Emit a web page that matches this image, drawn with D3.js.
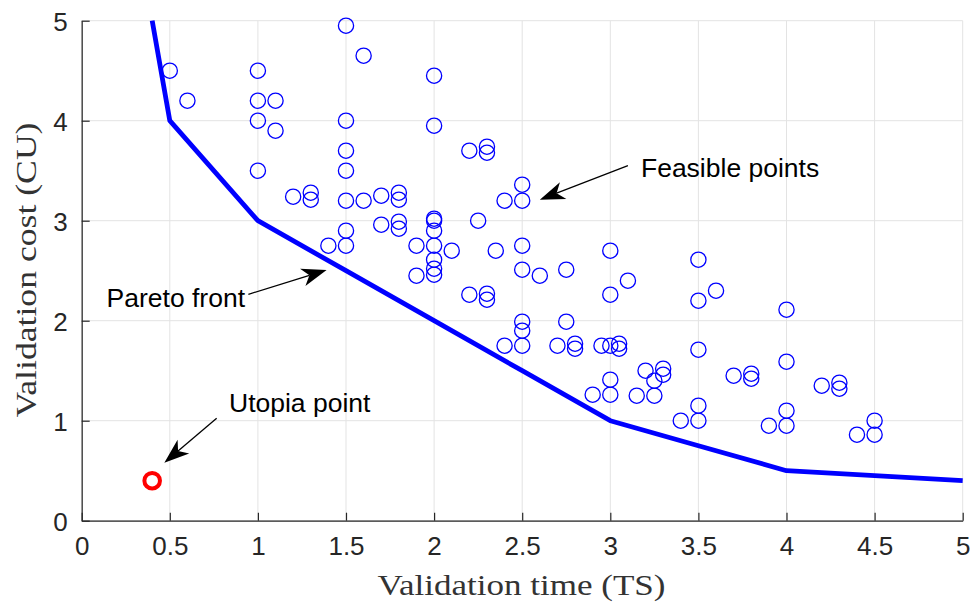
<!DOCTYPE html>
<html>
<head>
<meta charset="utf-8">
<script src="https://cdnjs.cloudflare.com/ajax/libs/d3/7.8.5/d3.min.js"></script>
<style>
  body { margin: 0; background: #fff; }
</style>
</head>
<body>
<div id="chart"></div>
<script>
// pareto front (line)
var paretoX = [0.4, 0.5, 1, 1.5, 2, 2.5, 3, 3.5, 4, 5];
var paretoY = [5, 4, 3, 2.5, 2, 1.5, 1, 0.75, 0.5, 0.4];

// feasible points (open circles)
var feasibleX = [0.5, 0.6, 1, 1, 1.1, 1, 1.1, 1, 1.2, 1.3, 1.3, 1.4,
    1.5, 1.6, 2, 1.5, 2, 1.5, 1.5, 2.2, 2.3, 2.3,
    1.5, 1.6, 1.7, 1.8, 1.8, 2.5, 2.5, 2.4,
    2.25, 1.7, 1.8, 1.8, 2, 2, 2, 1.5,
    1.5, 1.9, 2, 2.1, 2.35, 2.5, 3,
    2, 2, 2, 1.9, 2.5, 2.6, 2.75,
    3.1, 3, 2.2, 2.3, 2.3,
    3.5, 3.6, 3.5, 4,
    2.5, 2.5, 2.5, 2.4, 2.75, 2.7, 2.8, 2.8, 2.95, 3, 3.05, 3.05,
    3.5, 4, 3, 3, 2.9,
    3.2, 3.3, 3.3, 3.25, 3.25, 3.15,
    3.7, 3.8, 3.8, 4.2, 4.3, 4.3,
    3.5, 3.5, 3.4, 4, 4, 3.9, 4.5, 4.5, 4.4];
var feasibleY = [4.5, 4.2, 4.5, 4.2, 4.2, 4.0, 3.9, 3.5, 3.24, 3.28, 3.21, 2.75,
    4.95, 4.65, 4.45, 4.0, 3.95, 3.7, 3.5, 3.7, 3.74, 3.68,
    3.2, 3.2, 3.25, 3.28, 3.21, 3.36, 3.2, 3.2,
    3.0, 2.96, 2.99, 2.92, 3.02, 3.0, 2.9, 2.9,
    2.75, 2.75, 2.75, 2.7, 2.7, 2.75, 2.7,
    2.61, 2.52, 2.46, 2.45, 2.51, 2.45, 2.51,
    2.4, 2.26, 2.26, 2.27, 2.21,
    2.61, 2.3, 2.2, 2.11,
    1.99, 1.9, 1.75, 1.75, 1.99, 1.75, 1.77, 1.72, 1.75, 1.75, 1.77, 1.72,
    1.71, 1.59, 1.41, 1.26, 1.26,
    1.5, 1.52, 1.46, 1.4, 1.25, 1.25,
    1.45, 1.47, 1.42, 1.35, 1.38, 1.32,
    1.15, 1.0, 1.0, 1.1, 0.95, 0.95, 1.0, 0.86, 0.86];

var utopia = [0.4, 0.4];

var xTicks = [0, 0.5, 1, 1.5, 2, 2.5, 3, 3.5, 4, 4.5, 5];
var yTicks = [0, 1, 2, 3, 4, 5];

// annotations: [text, textX, textY, anchor, tailX, tailY, tipX, tipY]
var notes = [
    ["Feasible points", 3.174, 3.44, "start", 3.10, 3.55, 2.60, 3.21],
    ["Pareto front", 0.927, 2.14, "end", 0.946, 2.264, 1.39, 2.507],
    ["Utopia point", 0.836, 1.09, "start", 0.766, 1.024, 0.469, 0.58]
];

var W = 971, H = 603;
var mLeft = 81.7, mRight = 962.7, mTop = 20.7, mBottom = 520.7;

var x = d3.scaleLinear().domain([0, 5]).range([mLeft, mRight]);
var y = d3.scaleLinear().domain([0, 5]).range([mBottom, mTop]);

var svg = d3.select("#chart").append("svg")
    .attr("width", W)
    .attr("height", H);

var axisColor = "#262626";
var gridColor = "#e3e3e3";
var sans = "'Liberation Sans', Arial, sans-serif";
var serif = "'Liberation Serif', 'Times New Roman', serif";

// grid
svg.append("g").selectAll("line")
    .data(xTicks)
    .enter()
    .append("line")
    .attr("x1", function(d){ return x(d); })
    .attr("x2", function(d){ return x(d); })
    .attr("y1", mTop)
    .attr("y2", mBottom)
    .attr("stroke", gridColor)
    .attr("stroke-width", 1);

svg.append("g").selectAll("line")
    .data(yTicks)
    .enter()
    .append("line")
    .attr("y1", function(d){ return y(d); })
    .attr("y2", function(d){ return y(d); })
    .attr("x1", mLeft)
    .attr("x2", mRight)
    .attr("stroke", gridColor)
    .attr("stroke-width", 1);

// axes, ticks pointing inwards
var xAxis = d3.axisBottom(x)
    .tickValues(xTicks)
    .tickSizeInner(-8)
    .tickSizeOuter(0)
    .tickPadding(16)
    .tickFormat(d3.format("~g"));

var yAxis = d3.axisLeft(y)
    .tickValues(yTicks)
    .tickSizeInner(-8)
    .tickSizeOuter(0)
    .tickPadding(14)
    .tickFormat(d3.format("~g"));

var gx = svg.append("g")
    .attr("transform", "translate(0," + mBottom + ")")
    .call(xAxis);
var gy = svg.append("g")
    .attr("transform", "translate(" + mLeft + ",0)")
    .call(yAxis);

[gx, gy].forEach(function(g){
    g.selectAll("path").attr("stroke", axisColor).attr("stroke-width", 1.2);
    g.selectAll("line").attr("stroke", axisColor).attr("stroke-width", 1.2);
    g.selectAll("text")
        .attr("fill", axisColor)
        .attr("font-family", sans)
        .attr("font-size", "26px");
});
gy.selectAll("text").attr("dy", "0.36em");

// axis labels (latex style)
svg.append("text")
    .text("Validation time (TS)")
    .attr("x", (378 + 665) / 2)
    .attr("y", 595)
    .attr("text-anchor", "middle")
    .attr("font-family", serif)
    .attr("font-size", "30px")
    .attr("textLength", 288)
    .attr("lengthAdjust", "spacingAndGlyphs")
    .attr("fill", "#333");

svg.append("text")
    .text("Validation cost (CU)")
    .attr("transform", "translate(35.5,270) rotate(-90)")
    .attr("text-anchor", "middle")
    .attr("font-family", serif)
    .attr("font-size", "30px")
    .attr("textLength", 295)
    .attr("lengthAdjust", "spacingAndGlyphs")
    .attr("fill", "#333");

// pareto front
var line = d3.line()
    .x(function(d){ return x(d[0]); })
    .y(function(d){ return y(d[1]); });

svg.append("path")
    .datum(d3.zip(paretoX, paretoY))
    .attr("d", line)
    .attr("fill", "none")
    .attr("stroke", "#0000ff")
    .attr("stroke-width", 4.8)
    .attr("stroke-linejoin", "round");

// feasible points
svg.append("g").selectAll("circle")
    .data(d3.zip(feasibleX, feasibleY))
    .enter()
    .append("circle")
    .attr("cx", function(d){ return x(d[0]); })
    .attr("cy", function(d){ return y(d[1]); })
    .attr("r", 7.6)
    .attr("fill", "none")
    .attr("stroke", "#0000ff")
    .attr("stroke-width", 1.3);

// utopia point
svg.append("circle")
    .attr("cx", x(utopia[0]))
    .attr("cy", y(utopia[1]))
    .attr("r", 7.8)
    .attr("fill", "none")
    .attr("stroke", "#ff0000")
    .attr("stroke-width", 4);

// annotation arrows
var headLen = 25, headHalf = 9, notch = 18;

notes.forEach(function(n){
    var x0 = x(n[4]), y0 = y(n[5]), x1 = x(n[6]), y1 = y(n[7]);
    var dx = x0 - x1, dy = y0 - y1;
    var len = Math.sqrt(dx * dx + dy * dy);
    var ux = dx / len, uy = dy / len;   // from tip back to tail
    var px = -uy, py = ux;

    svg.append("line")
        .attr("x1", x0).attr("y1", y0)
        .attr("x2", x1 + ux * notch).attr("y2", y1 + uy * notch)
        .attr("stroke", "black")
        .attr("stroke-width", 1.3);

    var pts = [
        [x1, y1],
        [x1 + ux * headLen + px * headHalf, y1 + uy * headLen + py * headHalf],
        [x1 + ux * notch, y1 + uy * notch],
        [x1 + ux * headLen - px * headHalf, y1 + uy * headLen - py * headHalf]
    ];
    svg.append("path")
        .attr("d", "M" + pts.join("L") + "Z")
        .attr("fill", "black");

    svg.append("text")
        .text(n[0])
        .attr("x", x(n[1]))
        .attr("y", y(n[2]))
        .attr("text-anchor", n[3])
        .attr("font-family", sans)
        .attr("font-size", "26.5px")
        .attr("fill", "black");
});
</script>
</body>
</html>
